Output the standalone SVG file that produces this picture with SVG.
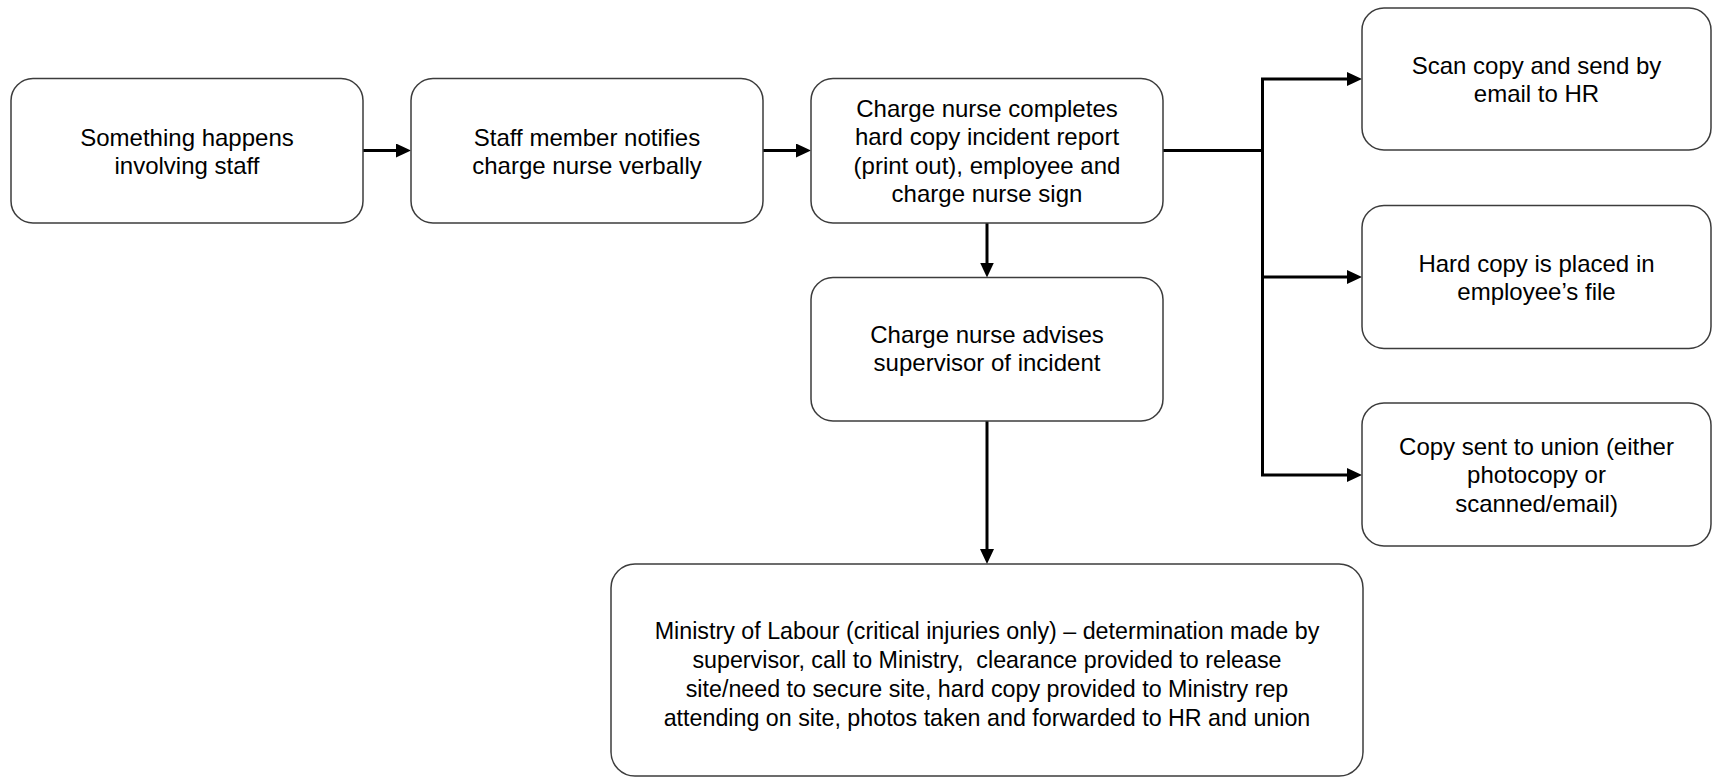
<svg xmlns="http://www.w3.org/2000/svg" width="1713" height="778" viewBox="0 0 1713 778">
  <style>
    .box { fill: #ffffff; stroke: #3c3c3c; stroke-width: 1.5; }
    .lbl { font-family: "Liberation Sans", Arial, sans-serif; font-size: 24px; fill: #000000; text-anchor: middle; }
    .conn { fill: none; stroke: #000000; stroke-width: 3; }
  </style>
  <defs>
    <marker id="arr" markerUnits="userSpaceOnUse" markerWidth="16" markerHeight="15" refX="5" refY="7" orient="auto">
      <path d="M0,0 L15,7 L0,14 Z" fill="#000000"/>
    </marker>
  </defs>
  <rect width="1713" height="778" fill="#ffffff"/>

  <g id="connectors">
    <path class="conn" d="M363,150.5 H401" marker-end="url(#arr)"/>
    <path class="conn" d="M763,150.5 H801" marker-end="url(#arr)"/>
    <path class="conn" d="M987,222.5 V267.5" marker-end="url(#arr)"/>
    <path class="conn" d="M987,421 V554" marker-end="url(#arr)"/>
    <path class="conn" d="M1163,150.5 H1262.5"/>
    <path class="conn" d="M1262.5,79 V475"/>
    <path class="conn" d="M1261,79 H1352" marker-end="url(#arr)"/>
    <path class="conn" d="M1262.5,277 H1352" marker-end="url(#arr)"/>
    <path class="conn" d="M1261,475 H1352" marker-end="url(#arr)"/>
  </g>

  <g id="node-something-happens">
    <rect class="box" x="11" y="78.5" width="352" height="144.5" rx="22" ry="22"/>
    <text class="lbl" x="187" y="145.5">Something happens</text>
    <text class="lbl" x="187" y="173.5">involving staff</text>
  </g>

  <g id="node-staff-notifies">
    <rect class="box" x="411" y="78.5" width="352" height="144.5" rx="22" ry="22"/>
    <text class="lbl" x="587" y="145.5">Staff member notifies</text>
    <text class="lbl" x="587" y="173.5">charge nurse verbally</text>
  </g>

  <g id="node-charge-nurse-completes">
    <rect class="box" x="811" y="78.5" width="352" height="144.5" rx="22" ry="22"/>
    <text class="lbl" x="987" y="116.75">Charge nurse completes</text>
    <text class="lbl" x="987" y="145.25">hard copy incident report</text>
    <text class="lbl" x="987" y="173.75">(print out), employee and</text>
    <text class="lbl" x="987" y="202.25">charge nurse sign</text>
  </g>

  <g id="node-advises-supervisor">
    <rect class="box" x="811" y="277.5" width="352" height="143.5" rx="22" ry="22"/>
    <text class="lbl" x="987" y="343">Charge nurse advises</text>
    <text class="lbl" x="987" y="371">supervisor of incident</text>
  </g>

  <g id="node-scan-copy">
    <rect class="box" x="1362" y="8" width="349" height="142" rx="22" ry="22"/>
    <text class="lbl" x="1536.5" y="73.5">Scan copy and send by</text>
    <text class="lbl" x="1536.5" y="101.5">email to HR</text>
  </g>

  <g id="node-hard-copy-file">
    <rect class="box" x="1362" y="205.5" width="349" height="143" rx="22" ry="22"/>
    <text class="lbl" x="1536.5" y="271.5">Hard copy is placed in</text>
    <text class="lbl" x="1536.5" y="299.5">employee’s file</text>
  </g>

  <g id="node-copy-union">
    <rect class="box" x="1362" y="403" width="349" height="143" rx="22" ry="22"/>
    <text class="lbl" x="1536.5" y="454.5">Copy sent to union (either</text>
    <text class="lbl" x="1536.5" y="483">photocopy or</text>
    <text class="lbl" x="1536.5" y="511.5">scanned/email)</text>
  </g>

  <g id="node-ministry">
    <rect class="box" x="611" y="564" width="752" height="212" rx="24" ry="24"/>
    <g transform="translate(987,0) scale(0.97,1) translate(-987,0)">
      <text class="lbl" x="987" y="639.5">Ministry of Labour (critical injuries only) – determination made by</text>
      <text class="lbl" x="987" y="668.5" xml:space="preserve">supervisor, call to Ministry,  clearance provided to release</text>
      <text class="lbl" x="987" y="697.5">site/need to secure site, hard copy provided to Ministry rep</text>
      <text class="lbl" x="987" y="726.5">attending on site, photos taken and forwarded to HR and union</text>
    </g>
  </g>
</svg>
